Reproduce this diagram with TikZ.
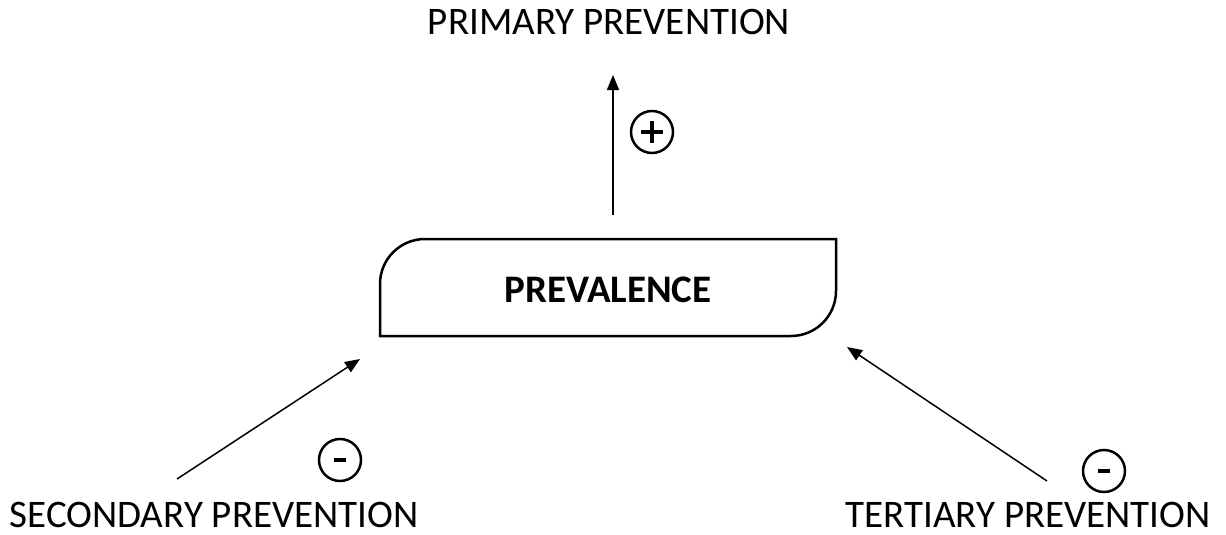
\documentclass[tikz,border=0pt]{standalone}
\usepackage{fontspec}
\setmainfont{Carlito}
\usetikzlibrary{arrows.meta}
\begin{document}
\begin{tikzpicture}[x=1pt,y=-1pt,
  lbl/.style={inner sep=0pt,anchor=base,font=\fontsize{39}{44}\selectfont},
  conn/.style={line width=1.5pt,-{Triangle[length=15pt,width=12pt]}},
  sign/.style={circle,draw,line width=2.5pt,minimum size=42pt,inner sep=0pt},
  boxshape/.style={line width=2.5pt}]
\useasboundingbox (0,0) rectangle (1226,535);
% box
\draw[boxshape] (380,336) -- (380,284) arc[start angle=180,end angle=270,radius=45] -- (836,239) -- (836,291) arc[start angle=0,end angle=90,radius=45] -- cycle;
\node[inner sep=0pt,anchor=base,font=\fontsize{39}{44}\selectfont\bfseries] (prev) at (608,302) {PREVALENCE};
\coordinate (topstart) at (613,215);
\coordinate (ltip) at (360,359);
\coordinate (rtip) at (847,347);
\node[lbl] (prim) at (609,35) {PRIMARY PREVENTION};
\node[lbl] (sec) at (214,527) {SECONDARY PREVENTION};
\node[lbl] (ter) at (1028,527) {TERTIARY PREVENTION};
\coordinate (ptip) at (613,75);
\coordinate (lstart) at (177,479);
\coordinate (rstart) at (1047,481);
\draw[conn] (topstart) -- (ptip);
\draw[conn] (lstart) -- (ltip);
\draw[conn] (rstart) -- (rtip);
\node[sign] (plus) at (652,132) {};
\node[sign] (m1) at (340,460) {};
\node[sign] (m2) at (1104,471) {};
\draw[line width=4pt] (641,132) -- (663,132) (652,121) -- (652,143);
\draw[line width=4.5pt] (334,460) -- (346,460);
\draw[line width=4.5pt] (1098,471) -- (1110,471);
\end{tikzpicture}
\end{document}
